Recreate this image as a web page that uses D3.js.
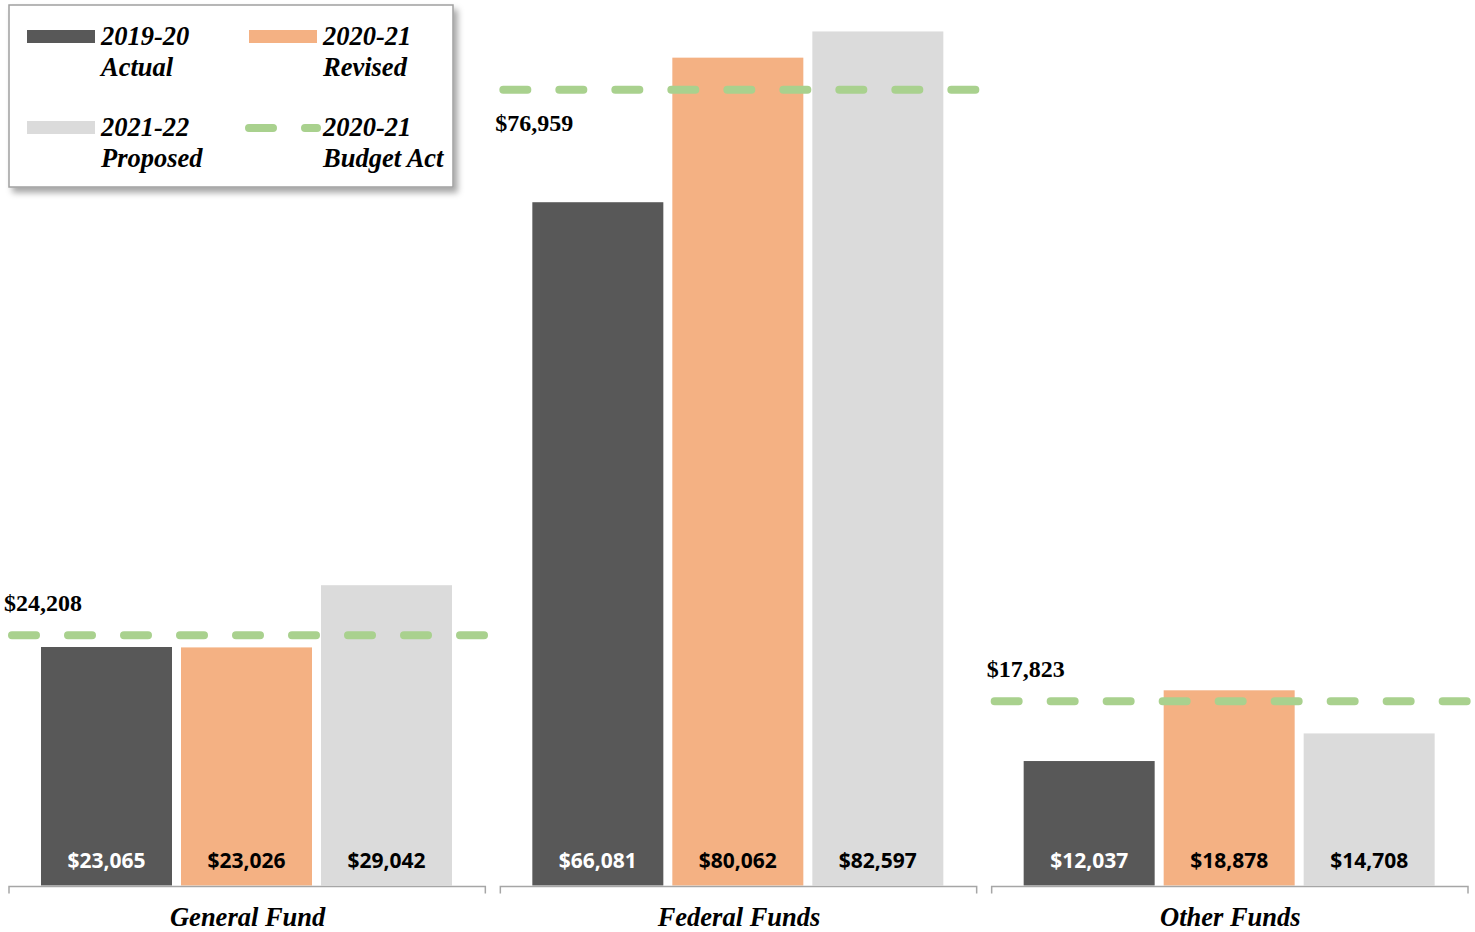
<!DOCTYPE html>
<html>
<head>
<meta charset="utf-8">
<script src="https://cdn.jsdelivr.net/npm/d3@7"></script>
<style>
  body { margin: 0; background: #fff; }
  svg { display: block; }
</style>
</head>
<body>
<div id="chart"></div>
<script>
var funds = ["General Fund", "Federal Funds", "Other Funds"];
var seriesNames = ["2019-20 Actual", "2020-21 Revised", "2021-22 Proposed"];
var actual1920 = [23065, 66081, 12037];
var revised2021 = [23026, 80062, 18878];
var proposed2122 = [29042, 82597, 14708];
var budgetAct2021 = [24208, 76959, 17823];

var colors = ["#585858", "#f4b183", "#dbdbdb"];
var labelColors = ["#ffffff", "#000000", "#000000"];
var green = "#a9d18e";
var serif = "'Liberation Serif', 'Times New Roman', serif";

var width = 1475, height = 932;
var baseY = 885.5;

var svg = d3.select("#chart").append("svg")
    .attr("width", width).attr("height", height);

var defs = svg.append("defs");
defs.append("filter").attr("id", "shadow")
    .attr("x", "-10%").attr("y", "-10%").attr("width", "130%").attr("height", "130%")
    .append("feDropShadow")
    .attr("dx", 4).attr("dy", 5).attr("stdDeviation", 3)
    .attr("flood-color", "#000").attr("flood-opacity", 0.35);

var xScale = d3.scaleBand().domain(funds).range([2, 1476]);
var yScale = d3.scaleLinear().domain([0, 85000]).range([baseY, baseY - 85000 * 0.01034]);

var values = [actual1920, revised2021, proposed2122];

var groups = svg.selectAll("g.fund").data(funds).enter().append("g")
    .attr("class", "fund")
    .attr("transform", function (d) { return "translate(" + xScale(d) + ",0)"; });

var inner = d3.scaleBand().domain(seriesNames)
    .range([39, 450]).paddingInner(9 / 140);

groups.each(function (fund, fi) {
    var g = d3.select(this);
    var rows = seriesNames.map(function (s, si) { return { s: s, si: si, v: values[si][fi] }; });

    g.selectAll("rect").data(rows).enter().append("rect")
        .attr("x", function (d) { return inner(d.s); })
        .attr("y", function (d) { return yScale(d.v); })
        .attr("width", inner.bandwidth())
        .attr("height", function (d) { return yScale(0) - yScale(d.v); })
        .attr("fill", function (d) { return colors[d.si]; });

    g.selectAll("text.val").data(rows).enter().append("text")
        .attr("class", "val")
        .attr("x", function (d) { return inner(d.s) + inner.bandwidth() / 2; })
        .attr("y", baseY - 18)
        .attr("text-anchor", "middle")
        .attr("font-family", "'Open Sans', sans-serif")
        .attr("font-weight", "bold")
        .attr("font-size", "21px")
        .attr("fill", function (d) { return labelColors[d.si]; })
        .text(function (d) { return "$" + d3.format(",")(d.v); });

    // axis piece under each group
    var bw = xScale.bandwidth();
    g.append("path")
        .attr("d", "M7," + (baseY + 8) + "V" + (baseY + 1) + "H" + (bw - 8) + "V" + (baseY + 8))
        .attr("fill", "none").attr("stroke", "#a6a6a6").attr("stroke-width", 1.5);

    g.append("text")
        .attr("x", bw / 2).attr("y", baseY + 40)
        .attr("text-anchor", "middle")
        .attr("font-family", serif)
        .attr("font-weight", "bold").attr("font-style", "italic")
        .attr("font-size", "26.5px")
        .text(fund);

    // budget act line
    var by = yScale(budgetAct2021[fi]);
    g.append("line")
        .attr("x1", 10).attr("x2", bw - 8)
        .attr("y1", by).attr("y2", by)
        .attr("stroke", green).attr("stroke-width", 8)
        .attr("stroke-linecap", "round")
        .attr("stroke-dasharray", "24 32");

    g.append("text")
        .attr("x", 2)
        .attr("y", by < 150 ? by + 41 : by - 24)
        .attr("font-family", serif)
        .attr("font-weight", "bold")
        .attr("font-size", "24px")
        .text("$" + d3.format(",")(budgetAct2021[fi]));
});

// legend
var legend = svg.append("g");
legend.append("rect")
    .attr("x", 9).attr("y", 5).attr("width", 444).attr("height", 182)
    .attr("fill", "#fff").attr("stroke", "#a0a0a0").attr("stroke-width", 1.5)
    .attr("filter", "url(#shadow)");

var legendItems = [
    { l1: "2019-20", l2: "Actual", x: 27, y: 30, type: "rect", c: colors[0] },
    { l1: "2020-21", l2: "Revised", x: 249, y: 30, type: "rect", c: colors[1] },
    { l1: "2021-22", l2: "Proposed", x: 27, y: 121, type: "rect", c: colors[2] },
    { l1: "2020-21", l2: "Budget Act", x: 249, y: 121, type: "line", c: green }
];

legendItems.forEach(function (d) {
    if (d.type === "rect") {
        legend.append("rect").attr("x", d.x).attr("y", d.y)
            .attr("width", 68).attr("height", 13).attr("fill", d.c);
    } else {
        legend.append("line")
            .attr("x1", d.x).attr("x2", d.x + 68)
            .attr("y1", d.y + 7).attr("y2", d.y + 7)
            .attr("stroke", d.c).attr("stroke-width", 8)
            .attr("stroke-linecap", "round")
            .attr("stroke-dasharray", "24 32");
    }
    var t = legend.append("text")
        .attr("font-family", serif)
        .attr("font-weight", "bold").attr("font-style", "italic")
        .attr("font-size", "26.5px");
    t.append("tspan").attr("x", d.x + 74).attr("y", d.y + 15).text(d.l1);
    t.append("tspan").attr("x", d.x + 74).attr("y", d.y + 46).text(d.l2);
});
</script>
</body>
</html>
